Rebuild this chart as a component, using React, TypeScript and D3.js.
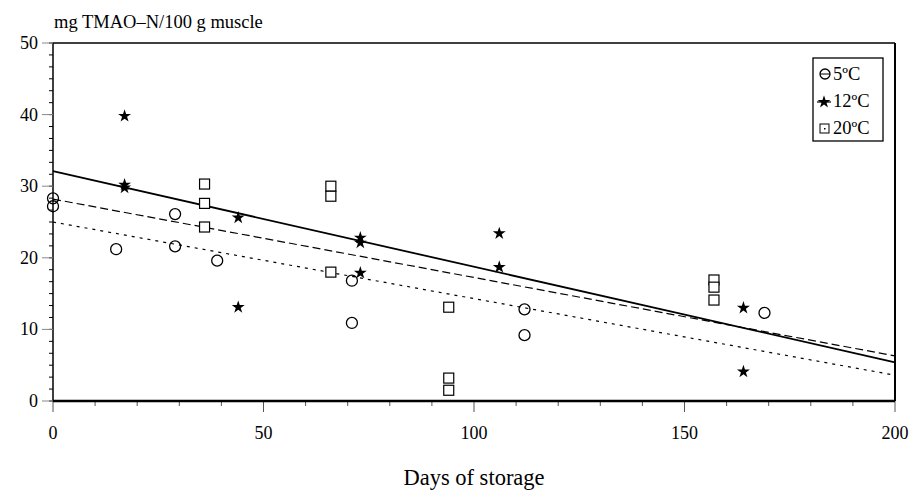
import React from "react";
import * as d3 from "d3";

// Observed TMAO-N values (mg/100 g muscle) by day of storage
const days5 = [0, 0, 15, 29, 29, 39, 71, 71, 112, 112, 169];
const vals5 = [28.3, 27.2, 21.2, 26.1, 21.6, 19.6, 16.8, 10.9, 12.8, 9.2, 12.3];

const days12 = [17, 17, 17, 44, 44, 73, 73, 73, 106, 106, 164, 164];
const vals12 = [39.8, 30.2, 29.8, 25.6, 13.1, 22.8, 22.1, 17.9, 23.4, 18.7, 13.0, 4.1];

const days20 = [36, 36, 36, 66, 66, 66, 94, 94, 94, 157, 157, 157];
const vals20 = [30.3, 27.6, 24.3, 30.0, 28.6, 18.0, 13.1, 3.2, 1.5, 16.9, 15.9, 14.1];

// Trend lines: value at day 0 and at day 200
const trendLabels = ["5ºC", "12ºC", "20ºC"];
const trendStart = [25.0, 32.1, 28.2];
const trendEnd = [3.6, 5.4, 6.3];

const xTicks = [0, 50, 100, 150, 200];
const yTicks = [0, 10, 20, 30, 40, 50];

const FONT = "'Liberation Serif', 'DejaVu Serif', serif";

const App = () => {
  const width = 912;
  const height = 492;
  const x = d3.scaleLinear().domain([0, 200]).range([53, 895]);
  const y = d3.scaleLinear().domain([0, 50]).range([401, 43]);

  const starPath = d3.symbol(d3.symbolStar, 52)();
  const line = d3
    .line<[number, number]>()
    .x((d) => x(d[0]))
    .y((d) => y(d[1]));

  const dashes = ["3,5", null, "8,4"];
  const minorY = d3.range(0, 50.001, 10 / 6);
  const minorX = d3.range(0, 201, 10);

  return (
    <svg
      width={width}
      height={height}
      style={{ position: "absolute", left: 0, top: 0, background: "white" }}
      fontFamily={FONT}
    >
      {/* title */}
      <text x={54} y={28} fontSize={18.5}>
        mg TMAO–N/100 g muscle
      </text>

      {/* frame */}
      <line x1={x(0)} x2={x(200)} y1={y(50)} y2={y(50)} stroke="black" strokeWidth={1.5} />
      <line x1={x(200)} x2={x(200)} y1={y(50)} y2={y(0)} stroke="black" strokeWidth={2} />

      {/* y axis */}
      <line x1={x(0)} x2={x(0)} y1={y(50)} y2={y(0)} stroke="black" strokeWidth={1.5} />
      {minorY.map((v, i) => (
        <line key={"my" + i} x1={x(0) - 4} x2={x(0)} y1={y(v)} y2={y(v)} stroke="black" strokeWidth={1} />
      ))}
      {yTicks.map((v) => (
        <g key={"y" + v}>
          <line x1={x(0) - 11} x2={x(0)} y1={y(v)} y2={y(v)} stroke="#888" strokeWidth={1} />
          <text x={38} y={y(v) + 6} fontSize={18} textAnchor="end">
            {v}
          </text>
        </g>
      ))}

      {/* x axis */}
      {minorX.map((v) => (
        <line
          key={"mx" + v}
          x1={x(v)}
          x2={x(v)}
          y1={y(0)}
          y2={y(0) + (v % 50 === 0 ? 11 : 5)}
          stroke="#555"
          strokeWidth={1}
        />
      ))}
      <line x1={x(0)} x2={x(200)} y1={y(0)} y2={y(0)} stroke="black" strokeWidth={2.5} />
      {xTicks.map((v) => (
        <text key={"x" + v} x={x(v)} y={439} fontSize={18} textAnchor="middle">
          {v}
        </text>
      ))}
      <text x={x(100)} y={485} fontSize={22.5} textAnchor="middle">
        Days of storage
      </text>

      {/* trend lines */}
      {trendLabels.map((t, i) => (
        <path
          key={"t" + t}
          d={line([
            [0, trendStart[i]],
            [200, trendEnd[i]],
          ]) as string}
          fill="none"
          stroke="black"
          strokeWidth={i === 1 ? 1.8 : 1.2}
          strokeDasharray={dashes[i] ?? undefined}
        />
      ))}

      {/* 5ºC circles */}
      {days5.map((d, i) => (
        <circle key={"c" + i} cx={x(d)} cy={y(vals5[i])} r={5.5} fill="none" stroke="black" strokeWidth={1.3} />
      ))}
      {/* 12ºC stars */}
      {days12.map((d, i) => (
        <path key={"s" + i} d={starPath as string} transform={`translate(${x(d)},${y(vals12[i])})`} fill="black" />
      ))}
      {/* 20ºC squares */}
      {days20.map((d, i) => (
        <rect key={"q" + i} x={x(d) - 5} y={y(vals20[i]) - 5} width={10} height={10} fill="white" stroke="black" strokeWidth={1.2} />
      ))}

      {/* legend */}
      <rect x={813} y={58} width={70} height={83} fill="white" stroke="black" strokeWidth={1.3} />
      <circle cx={825} cy={74} r={5} fill="none" stroke="black" strokeWidth={1.3} />
      <line x1={820} x2={830} y1={74} y2={74} stroke="black" strokeWidth={1} />
      <path d={starPath as string} transform="translate(824,102)" fill="black" />
      <line x1={817} x2={831} y1={102} y2={102} stroke="black" strokeWidth={1.2} />
      <rect x={820} y={124} width={9} height={9} fill="white" stroke="black" strokeWidth={1} />
      <rect x={824} y={128} width={1.5} height={1.5} fill="black" />
      {trendLabels.map((t, i) => (
        <text key={"l" + t} x={833} y={80 + i * 27} fontSize={18.5}>
          {t}
        </text>
      ))}
    </svg>
  );
};

export default App;
